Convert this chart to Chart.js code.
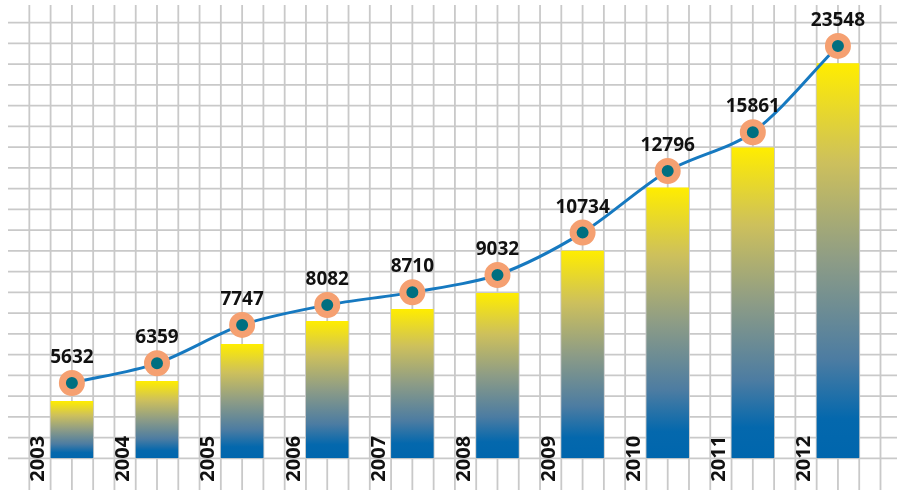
<!DOCTYPE html>
<html><head><meta charset="utf-8">
<script src="https://cdn.jsdelivr.net/npm/chart.js@4/dist/chart.umd.min.js"></script>
<style>html,body{margin:0;padding:0;background:#fff;overflow:hidden}#wrap{width:897px;height:490px;position:relative}</style>
</head><body><div id="wrap"><canvas id="c" width="897" height="490"></canvas></div>
<script>
// ---- data ----
const years = ['2003','2004','2005','2006','2007','2008','2009','2010','2011','2012'];
const values = [5632, 6359, 7747, 8082, 8710, 9032, 10734, 12796, 15861, 23548];
// visual heights of the bars and of the line points, in grid-cell units
const barLevels = [2.76, 3.73, 5.51, 6.62, 7.20, 7.97, 10.01, 13.05, 14.98, 19.04];
const pointLevels = [3.63, 4.58, 6.43, 7.39, 8.00, 8.84, 10.88, 13.85, 15.72, 19.88];
const gridRows = 21;

function barGradient(ctx) {
  const chart = ctx.chart;
  if (!chart.chartArea || ctx.type !== 'data') return '#ffed00';
  const y = chart.scales.y;
  const top = y.getPixelForValue(ctx.raw), bot = y.getPixelForValue(0);
  const g = chart.ctx.createLinearGradient(0, top, 0, bot);
  g.addColorStop(0, '#ffed00');
  g.addColorStop(0.25, '#cdc05c');
  g.addColorStop(0.5, '#8d9c86');
  g.addColorStop(0.75, '#4c7ca2');
  g.addColorStop(0.9, '#0468ad');
  g.addColorStop(1, '#0066ad');
  return g;
}

const gridPlugin = {
  id: 'grid',
  beforeDraw(chart) {
    const c = chart.ctx, a = chart.chartArea, x = chart.scales.x, y = chart.scales.y;
    c.save();
    c.fillStyle = '#fff';
    c.fillRect(0, 0, chart.width, chart.height);
    c.strokeStyle = '#c9c9c9';
    c.lineWidth = 1.8;
    const step = (x.getPixelForValue(1) - x.getPixelForValue(0)) / 4;
    const x0 = x.getPixelForValue(0) - 2 * step;
    for (let n = 0; n <= years.length * 4; n++) {
      const px = x0 + n * step;
      c.beginPath(); c.moveTo(px, a.top - 17.7); c.lineTo(px, chart.height); c.stroke();
    }
    for (let k = 0; k <= gridRows; k++) {
      const py = y.getPixelForValue(k);
      c.beginPath(); c.moveTo(8, py); c.lineTo(chart.width, py); c.stroke();
    }
    c.restore();
  }
};

const labelPlugin = {
  id: 'labels',
  afterDatasetsDraw(chart) {
    const c = chart.ctx, x = chart.scales.x, y = chart.scales.y;
    const meta = chart.getDatasetMeta(1);
    c.save();
    c.fillStyle = '#111';
    c.font = 'bold 19px "Open Sans", sans-serif';
    c.textAlign = 'center';
    c.textBaseline = 'alphabetic';
    meta.data.forEach((pt, i) => {
      c.fillText(String(values[i]), pt.x, pt.y - 20);
    });
    c.font = 'bold 20px "Open Sans", sans-serif';
    c.textBaseline = 'middle';
    const base = y.getPixelForValue(0);
    const step = x.getPixelForValue(1) - x.getPixelForValue(0);
    years.forEach((yr, i) => {
      const px = x.getPixelForValue(i) - step * 0.404;
      c.save();
      c.translate(px, base + 0.5);
      c.rotate(-Math.PI / 2);
      c.fillText(yr, 0, 1);
      c.restore();
    });
    c.restore();
  }
};

new Chart(document.getElementById('c'), {
  data: {
    labels: years,
    datasets: [
      {
        type: 'bar',
        data: barLevels,
        backgroundColor: barGradient,
        borderWidth: 0,
        barPercentage: 0.5,
        categoryPercentage: 1,
        order: 2
      },
      {
        type: 'line',
        data: pointLevels,
        borderColor: '#1679c0',
        borderWidth: 3,
        tension: 0.3,
        pointRadius: 9.5,
        pointBorderWidth: 7,
        pointBackgroundColor: '#006f80',
        pointBorderColor: '#f5a071',
        pointHoverRadius: 9.5,
        clip: false,
        order: 1
      }
    ]
  },
  options: {
    responsive: false,
    animation: false,
    events: [],
    layout: { padding: { left: 29.33, right: 14.33, top: 22.7, bottom: 31.7 } },
    plugins: { legend: { display: false }, tooltip: { enabled: false } },
    scales: {
      x: { type: 'category', display: false, offset: true },
      y: { display: false, min: 0, max: gridRows }
    }
  },
  plugins: [gridPlugin, labelPlugin]
});
</script>
</body></html>
